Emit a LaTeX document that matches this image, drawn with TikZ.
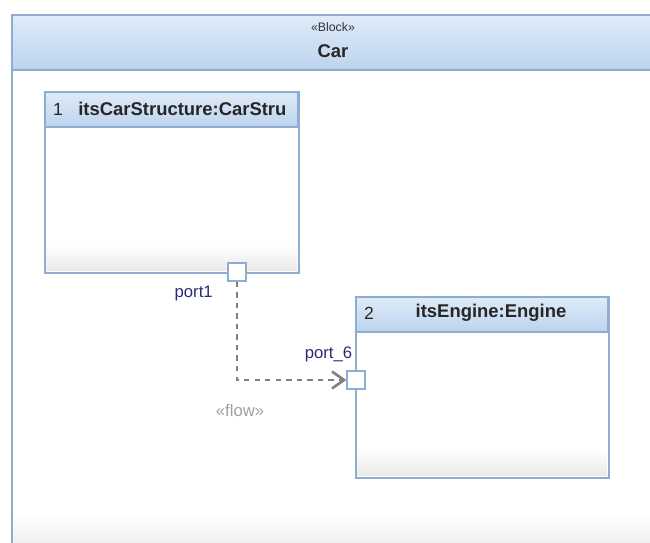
\documentclass[tikz,border=0pt]{standalone}
\usepackage{fontspec}
\setmainfont{Liberation Sans}
\usetikzlibrary{arrows.meta, positioning}
\definecolor{hdrtop}{HTML}{DFEBF8}
\definecolor{hdrbot}{HTML}{BCD3ED}
\definecolor{blkline}{HTML}{8DAED2}
\definecolor{portname}{HTML}{2A2A78}
\definecolor{flowgray}{HTML}{808080}
\definecolor{stereogray}{HTML}{A0A0A0}

\begin{document}
\begin{tikzpicture}[
	x=0.02cm, y=-0.02cm,
	header/.style={top color=hdrtop, bottom color=hdrbot, draw=blkline, thick},
	partbox/.style={rectangle, draw=blkline, thick, fill=white, inner sep=0pt, anchor=north west},
	foot/.style={top color=white, bottom color=gray!17, draw=none},
	port/.style={rectangle, draw=blkline, thick, fill=white, minimum size=0.36cm, inner sep=0pt},
	port_label/.style={font=\fontsize{9.5}{11}\selectfont, text=portname, inner sep=1pt},
	part_title/.style={font=\bfseries\fontsize{10.5}{12}\selectfont, text=black!85, inner sep=0pt},
	part_index/.style={font=\fontsize{10}{12}\selectfont, text=black!85, inner sep=0pt},
	flow/.style={draw=flowgray, dashed, thick, -{Straight Barb[length=2.4mm, width=3.4mm, line width=1.5pt]}}
	]
	\useasboundingbox (0,0) rectangle (650,543);
	\clip (0,0) rectangle (650,543);
	
	% --- BLOCO CAR ---
	\fill[white] (12,15) rectangle (680,560);
	\shade[foot] (12,512) rectangle (680,560);
	\draw[draw=blkline, thick] (12,560) -- (12,15) -- (680,15);
	\draw[header] (12,15) rectangle (680,70);
	\node[font=\fontsize{7}{8}\selectfont, text=black!80, inner sep=0pt] (car_stereo) at (333,27) {«Block»};
	\node[part_title] (car_name) at (333,51) {Car};
	
	% --- PARTES ---
	\node[partbox, minimum width=5.06cm, minimum height=3.6cm] (structure) at (45,92) {};
	\shade[foot] (46,244) rectangle (297,271);
	\draw[header] (structure.north west) rectangle (298,127);
	\draw[draw=blkline, thick] (structure.north west) rectangle (structure.south east);
	\node[part_index] (structure_idx) at (58,109) {1};
	\node[part_title, anchor=west] (structure_name) at (78,109) {itsCarStructure:CarStru};
	
	\node[partbox, minimum width=5.04cm, minimum height=3.6cm] (engine) at (356,297) {};
	\shade[foot] (357,449) rectangle (607,476);
	\draw[header] (engine.north west) rectangle (608,332);
	\draw[draw=blkline, thick] (engine.north west) rectangle (engine.south east);
	\node[part_index] (engine_idx) at (369,313) {2};
	\node[part_title] (engine_name) at (491,313) {itsEngine:Engine};
	
	% --- PORTAS E FLUXO ---
	\node[port] (port1) at (237,272) {};
	\node[port_label, below left=0.05cm and 0.25cm of port1.south west] (port1_name) {port1};
	\node[port] (port6) at (356,380) {};
	\node[port_label, above left=0.12cm and -0.16cm of port6.north west] (port6_name) {port\_6};
	
	\draw[flow] (port1.south) |- (port6.west);
	\node[font=\fontsize{9.5}{11}\selectfont, text=stereogray] (flow_name) at (240,411) {«flow»};
	
\end{tikzpicture}
\end{document}
